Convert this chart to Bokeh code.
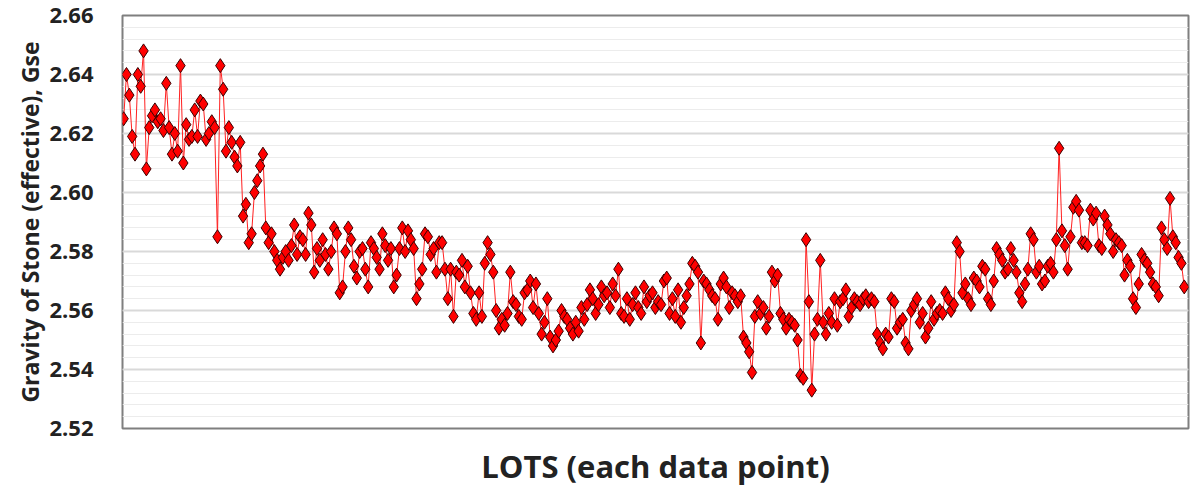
from bokeh.plotting import figure
from bokeh.models import FixedTicker, PrintfTickFormatter, Range1d, ColumnDataSource
from bokeh.embed import file_html
from bokeh.resources import INLINE

# Gravity of Stone (effective), Gse, per lot (left to right)
seg1 = [2.625, 2.640, 2.633, 2.619, 2.613, 2.640, 2.636, 2.648,
        2.608, 2.622, 2.626, 2.628, 2.624, 2.625, 2.621, 2.637, 2.622, 2.613, 2.620, 2.614,
        2.643,
        2.610, 2.623, 2.618, 2.619, 2.628, 2.619, 2.631, 2.630, 2.618, 2.620, 2.624, 2.622,
        2.585, 2.643, 2.635, 2.614, 2.622, 2.617, 2.612, 2.609, 2.617, 2.592, 2.596, 2.583,
        2.586, 2.600, 2.604, 2.609, 2.613,
        2.588, 2.583, 2.586, 2.580, 2.577, 2.574, 2.578, 2.580, 2.577, 2.582, 2.589, 2.579,
        2.585]
seg2 = [2.584, 2.579, 2.593, 2.589, 2.573, 2.581, 2.577, 2.584, 2.579, 2.574, 2.580,
        2.588, 2.586, 2.566, 2.568, 2.580, 2.588, 2.584, 2.575, 2.571, 2.580, 2.581,
        2.574, 2.568, 2.583, 2.581, 2.578, 2.574, 2.586, 2.582, 2.577, 2.581, 2.568,
        2.572, 2.581, 2.588, 2.580, 2.587, 2.584, 2.581, 2.564, 2.569, 2.574, 2.586, 2.585,
        2.579, 2.581, 2.573, 2.583, 2.583, 2.574, 2.564, 2.574, 2.558, 2.573, 2.572,
        2.577, 2.568, 2.575, 2.566, 2.559, 2.557]
seg3 = [2.566, 2.558, 2.576, 2.583, 2.579, 2.573, 2.560, 2.554, 2.557, 2.555, 2.559, 2.573,
        2.563, 2.562, 2.558, 2.557, 2.566, 2.567, 2.570, 2.561, 2.569, 2.559, 2.552, 2.556,
        2.564, 2.551, 2.548, 2.550, 2.553, 2.560, 2.558, 2.557, 2.554, 2.552, 2.556, 2.553,
        2.561, 2.557, 2.562, 2.567, 2.564, 2.559, 2.562, 2.568, 2.565, 2.566, 2.561, 2.569,
        2.565, 2.574, 2.559, 2.558, 2.564, 2.557, 2.562, 2.566, 2.561, 2.559, 2.568, 2.563,
        2.565]
seg4 = [2.566, 2.561, 2.563, 2.562, 2.570, 2.571, 2.559, 2.564, 2.558, 2.567, 2.556, 2.561,
        2.565, 2.569, 2.576, 2.575, 2.573, 2.549, 2.570, 2.569, 2.567, 2.565, 2.564, 2.557,
        2.569, 2.571, 2.568, 2.561, 2.566, 2.565, 2.563, 2.565, 2.551, 2.549, 2.546, 2.539,
        2.558, 2.563, 2.559, 2.561, 2.554, 2.558, 2.573, 2.570, 2.572, 2.559, 2.557, 2.554,
        2.557, 2.556, 2.555, 2.550, 2.538, 2.537, 2.584, 2.563, 2.533, 2.552, 2.557, 2.577,
        2.556, 2.552]
seg5 = [2.559, 2.556, 2.564, 2.555, 2.563, 2.564, 2.567, 2.558, 2.561, 2.564, 2.563, 2.562,
        2.564, 2.565, 2.563, 2.564, 2.563, 2.552, 2.549, 2.547, 2.552, 2.551, 2.564, 2.563,
        2.554, 2.556, 2.557, 2.549, 2.547, 2.560, 2.562, 2.564, 2.556, 2.559, 2.551, 2.554,
        2.563, 2.557, 2.559, 2.560, 2.559, 2.566, 2.564, 2.560, 2.562, 2.583, 2.580, 2.566,
        2.569, 2.564, 2.562, 2.571, 2.570, 2.568, 2.575, 2.574, 2.564, 2.562, 2.570, 2.581,
        2.579, 2.577]
seg6 = [2.573, 2.574, 2.581, 2.577, 2.573, 2.566, 2.563, 2.569, 2.574, 2.586, 2.584, 2.573,
        2.575, 2.569, 2.570, 2.575, 2.576, 2.573, 2.584, 2.615, 2.587, 2.582, 2.574, 2.585,
        2.595, 2.597, 2.594, 2.583, 2.583, 2.582, 2.594, 2.591, 2.593, 2.582, 2.581, 2.592,
        2.589, 2.586, 2.580, 2.584, 2.583, 2.582, 2.572, 2.577, 2.575, 2.564, 2.561, 2.569,
        2.579, 2.577, 2.576, 2.573, 2.569, 2.568, 2.565, 2.588, 2.584, 2.581, 2.598, 2.585,
        2.583, 2.578, 2.576, 2.568]

gse = seg1 + seg2 + seg3 + seg4 + seg5 + seg6
lots = list(range(1, len(gse) + 1))
y_ticks = [2.52, 2.54, 2.56, 2.58, 2.60, 2.62, 2.64, 2.66]
minor_y_ticks = [round(2.52 + 0.004 * i, 3) for i in range(36)]

src = ColumnDataSource(dict(x=lots, y=gse))

p = figure(width=1193, height=490, output_backend="svg", toolbar_location=None,
           x_range=Range1d(0.6, len(gse) + 1.5), y_range=Range1d(2.52, 2.66),
           min_border_left=122, min_border_right=5, min_border_top=15, min_border_bottom=62)
p.background_fill_color = "white"
p.border_fill_color = "white"
p.outline_line_color = "#7f7f7f"
p.outline_line_width = 2

p.line("x", "y", source=src, line_color="#ff2020", line_width=1)
p.scatter("x", "y", source=src, marker="diamond", size=14, fill_color="#ff0000",
          line_color="#3a0000", line_width=1)

p.yaxis.ticker = FixedTicker(ticks=y_ticks, minor_ticks=minor_y_ticks)
p.yaxis.formatter = PrintfTickFormatter(format="%.2f")
p.yaxis.axis_line_color = None
p.yaxis.major_tick_line_color = None
p.yaxis.minor_tick_line_color = None
p.yaxis.major_label_text_font = "Open Sans"
p.yaxis.major_label_text_font_style = "bold"
p.yaxis.major_label_text_font_size = "22px"
p.yaxis.major_label_text_color = "#222222"
p.yaxis.major_label_standoff = 23
p.yaxis.axis_label = "Gravity of Stone (effective), Gse"
p.yaxis.axis_label_text_font = "Open Sans"
p.yaxis.axis_label_text_font_style = "bold"
p.yaxis.axis_label_text_font_size = "23px"
p.yaxis.axis_label_text_color = "#222222"
p.yaxis.axis_label_standoff = 0

p.xaxis.ticker = FixedTicker(ticks=[])
p.xaxis.axis_line_color = None
p.xaxis.major_tick_line_color = None
p.xaxis.minor_tick_line_color = None
p.xaxis.major_label_text_font_size = "0px"
p.xaxis.axis_label = "LOTS (each data point)"
p.xaxis.axis_label_text_font = "Open Sans"
p.xaxis.axis_label_text_font_style = "bold"
p.xaxis.axis_label_text_font_size = "31px"
p.xaxis.axis_label_text_color = "#222222"
p.xaxis.axis_label_standoff = 16

p.xgrid.grid_line_color = None
p.ygrid.grid_line_color = "#d9d9d9"
p.ygrid.grid_line_width = 2
p.ygrid.minor_grid_line_color = "#ececec"
p.ygrid.minor_grid_line_width = 1

open("out.html", "w").write(file_html(p, INLINE))
